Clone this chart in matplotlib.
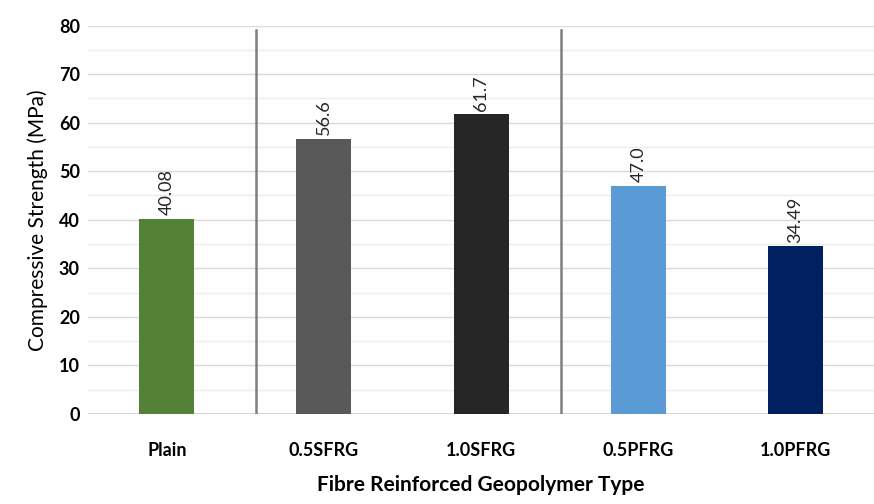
import numpy as np
import matplotlib.pyplot as plt

tipos = ['Plain', '0.5SFRG', '1.0SFRG', '0.5PFRG', '1.0PFRG']
resistencia = [40.08, 56.6, 61.7, 47.0, 34.49]
etiquetas = ['40.08', '56.6', '61.7', '47.0', '34.49']
colores = ['#538135', '#595959', '#262626', '#5B9BD5', '#002060']

plt.rcParams['font.family'] = ['Lato', 'DejaVu Sans']

fig = plt.figure(figsize=(8.74, 5.04), dpi=100)
ax = fig.add_axes([0.101, 0.179, 0.899, 0.770])

x = np.arange(len(tipos))
ax.bar(x, resistencia, width=0.35, color=colores, zorder=3)

for xi, v, t in zip(x, resistencia, etiquetas):
    ax.text(xi, v + 0.8, t, rotation=90, ha='center', va='bottom',
            fontsize=13, color='#262626')

# separadores entre grupos
for xs in [0.57, 2.51]:
    ax.axvline(xs, ymin=0, ymax=0.99, color='#7f7f7f', lw=1.8, zorder=4)

ax.set_xlim(-0.5, 4.5)
ax.set_ylim(0, 80)
ax.set_yticks(np.arange(0, 81, 10))
ax.set_yticks(np.arange(5, 80, 10), minor=True)
ax.grid(axis='y', which='major', color='#d9d9d9', lw=1, zorder=0)
ax.grid(axis='y', which='minor', color='#ececec', lw=1, zorder=0)
ax.axhline(0, color='#d0d0d0', lw=1.2, zorder=2)

ax.set_xticks(x)
ax.set_xticklabels(tipos, fontsize=13, fontweight='bold')
for lab in ax.get_yticklabels():
    lab.set_fontsize(13)
    lab.set_fontweight('bold')
ax.tick_params(axis='both', which='both', length=0)
ax.tick_params(axis='x', pad=20)
ax.tick_params(axis='y', pad=6)

for s in ax.spines.values():
    s.set_visible(False)

ax.set_xlabel('Fibre Reinforced Geopolymer Type', fontsize=15, fontweight='bold', labelpad=12)
ax.set_ylabel('Compressive Strength (MPa)', fontsize=15, labelpad=8)

fig.savefig('out.png', dpi=100)
